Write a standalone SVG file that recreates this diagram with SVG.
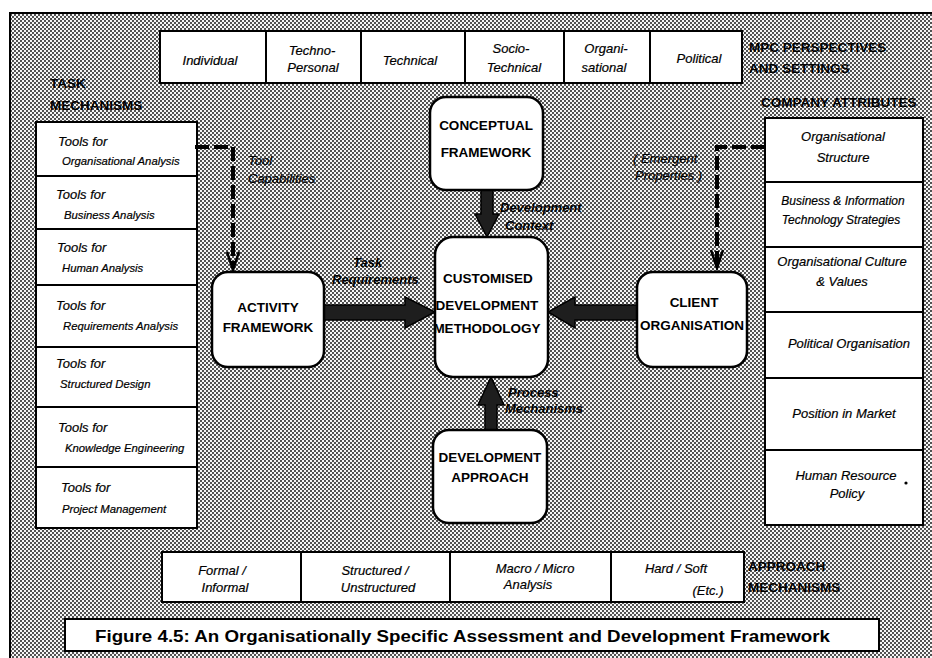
<svg xmlns="http://www.w3.org/2000/svg" width="932" height="658" viewBox="0 0 932 658">
  <defs>
    <!-- halftone screen used for the page background -->
    <pattern id="halftone" width="4" height="4" patternUnits="userSpaceOnUse">
      <rect width="4" height="4" fill="#f6f6f6"/>
      <circle cx="1" cy="1" r="0.88" fill="#000"/>
      <circle cx="3" cy="3" r="0.88" fill="#000"/>
    </pattern>
  </defs>
  <style>
    .cell{fill:#fff;stroke:#000;stroke-width:2}
    .rule{stroke:#000;stroke-width:2}
    .node{fill:#fff;stroke:#000;stroke-width:2.5}
    .it{font-family:"Liberation Sans",Arial,sans-serif;font-style:italic;font-size:13px;fill:#000;stroke:#000;stroke-width:0.2}
    .sm{font-size:12px}
    .xs{font-size:11.3px}
    .nl{font-family:"Liberation Sans",Arial,sans-serif;font-weight:bold;font-size:13.5px;text-anchor:middle;fill:#000}
    .hd{font-family:"Liberation Sans",Arial,sans-serif;font-weight:bold;font-size:13.5px;fill:#000}
    .lbl{font-family:"Liberation Sans",Arial,sans-serif;font-weight:bold;font-style:italic;font-size:13px;fill:#000}
    .c{text-anchor:middle}
    .dash{fill:none;stroke:#000;stroke-width:4;stroke-dasharray:14 5}
    .head{fill:none;stroke:#000;stroke-width:2.5;stroke-linejoin:miter}
    .thick{fill:#1e1e1e;stroke:#000;stroke-width:1.5;stroke-linejoin:miter}
  </style>

  <!-- page -->
  <rect x="0" y="0" width="932" height="658" fill="#fff"/>
  <rect x="10" y="13" width="930" height="652" fill="url(#halftone)" stroke="#000" stroke-width="2"/>

  <!-- MPC perspectives bar -->
  <g id="perspectives">
    <rect class="cell" x="160" y="31" width="582" height="52"/>
    <line class="rule" x1="266" y1="31" x2="266" y2="83"/>
    <line class="rule" x1="361" y1="31" x2="361" y2="83"/>
    <line class="rule" x1="465" y1="31" x2="465" y2="83"/>
    <line class="rule" x1="564" y1="31" x2="564" y2="83"/>
    <line class="rule" x1="650" y1="31" x2="650" y2="83"/>
    <text class="it c" x="210" y="65">Individual</text>
    <text class="it c" x="312" y="55">Techno-</text>
    <text class="it c" x="313" y="72">Personal</text>
    <text class="it c" x="410" y="65">Technical</text>
    <text class="it c" x="511" y="53">Socio-</text>
    <text class="it c" x="514" y="72">Technical</text>
    <text class="it c" x="606" y="53">Organi-</text>
    <text class="it c" x="604" y="72">sational</text>
    <text class="it c" x="699" y="63">Political</text>
    <text class="hd" x="749" y="52">MPC PERSPECTIVES</text>
    <text class="hd" x="749" y="73">AND SETTINGS</text>
  </g>

  <!-- task mechanisms column -->
  <g id="task-mechanisms">
    <text class="hd" x="50" y="88">TASK</text>
    <text class="hd" x="50" y="110">MECHANISMS</text>
    <rect class="cell" x="36" y="122" width="161" height="406"/>
    <line class="rule" x1="36" y1="176" x2="197" y2="176"/>
    <line class="rule" x1="36" y1="229" x2="197" y2="229"/>
    <line class="rule" x1="36" y1="285" x2="197" y2="285"/>
    <line class="rule" x1="36" y1="347" x2="197" y2="347"/>
    <line class="rule" x1="36" y1="407" x2="197" y2="407"/>
    <line class="rule" x1="36" y1="467" x2="197" y2="467"/>
    <text class="it" x="58" y="146">Tools for</text>
    <text class="it xs" x="62" y="165">Organisational Analysis</text>
    <text class="it" x="56" y="199">Tools for</text>
    <text class="it xs" x="64" y="219">Business Analysis</text>
    <text class="it" x="57" y="252">Tools for</text>
    <text class="it xs" x="62" y="272">Human Analysis</text>
    <text class="it" x="56" y="310">Tools for</text>
    <text class="it xs" x="63" y="330">Requirements Analysis</text>
    <text class="it" x="56" y="368">Tools for</text>
    <text class="it xs" x="60" y="388">Structured Design</text>
    <text class="it" x="58" y="432">Tools for</text>
    <text class="it xs" x="65" y="452">Knowledge Engineering</text>
    <text class="it" x="61" y="492">Tools for</text>
    <text class="it xs" x="62" y="513">Project Management</text>
  </g>

  <!-- company attributes column -->
  <g id="company-attributes">
    <text class="hd" x="761" y="107">COMPANY ATTRIBUTES</text>
    <rect class="cell" x="765" y="118" width="158" height="407"/>
    <line class="rule" x1="765" y1="182" x2="923" y2="182"/>
    <line class="rule" x1="765" y1="247" x2="923" y2="247"/>
    <line class="rule" x1="765" y1="312" x2="923" y2="312"/>
    <line class="rule" x1="765" y1="378" x2="923" y2="378"/>
    <line class="rule" x1="765" y1="450" x2="923" y2="450"/>
    <text class="it c" x="843" y="141">Organisational</text>
    <text class="it c" x="843" y="162">Structure</text>
    <text class="it c sm" x="843" y="205">Business &amp; Information</text>
    <text class="it c sm" x="841" y="224">Technology Strategies</text>
    <text class="it c" x="842" y="266">Organisational Culture</text>
    <text class="it c" x="842" y="286">&amp; Values</text>
    <text class="it c" x="849" y="348">Political Organisation</text>
    <text class="it c" x="844" y="418">Position in Market</text>
    <text class="it c" x="846" y="480">Human Resource</text>
    <circle cx="906" cy="483" r="1.6" fill="#000"/>
    <text class="it c" x="847" y="498">Policy</text>
  </g>

  <!-- connectors -->
  <g id="connectors">
    <!-- tool capabilities (dashed) -->
    <polyline class="dash" points="195,147 233,147 233,266"/>
    <polyline class="head" points="227,252 233,270 239,252"/>
    <text class="it" x="248" y="165">Tool</text>
    <text class="it" x="248" y="183">Capabilities</text>
    <!-- emergent properties (dashed) -->
    <polyline class="dash" points="765,147 717,147 717,264"/>
    <polyline class="head" points="711,250 717,268 723,250"/>
    <text class="it" x="633" y="163">( Emergent</text>
    <text class="it" x="635" y="180">Properties )</text>
    <!-- development context -->
    <polygon class="thick" points="481,190 493,190 493,214 499,214 487,237 475,214 481,214"/>
    <text class="lbl" x="500" y="212">Development</text>
    <text class="lbl" x="505" y="230">Context</text>
    <!-- task requirements -->
    <polygon class="thick" points="324,305 405,305 405,297 435,312 405,328 405,320 324,320"/>
    <text class="lbl" x="353" y="267">Task</text>
    <text class="lbl" x="332" y="284">Requirements</text>
    <!-- client organisation to methodology -->
    <polygon class="thick" points="637,305 575,305 575,297 548,312 575,328 575,320 637,320"/>
    <!-- process mechanisms -->
    <polygon class="thick" points="485,430 497,430 497,405 504,405 491,377 478,405 485,405"/>
    <text class="lbl" x="508" y="397">Process</text>
    <text class="lbl" x="505" y="413">Mechanisms</text>
  </g>

  <!-- framework nodes -->
  <g id="conceptual-framework">
    <rect class="node" x="430" y="97" width="113" height="93" rx="16"/>
    <text class="nl" x="486" y="130">CONCEPTUAL</text>
    <text class="nl" x="486" y="157">FRAMEWORK</text>
  </g>
  <g id="customised-methodology">
    <rect class="node" x="435" y="237" width="113" height="140" rx="18"/>
    <text class="nl" x="488" y="283">CUSTOMISED</text>
    <text class="nl" x="487" y="310">DEVELOPMENT</text>
    <text class="nl" x="487" y="333">METHODOLOGY</text>
  </g>
  <g id="activity-framework">
    <rect class="node" x="212" y="272" width="112" height="95" rx="16"/>
    <text class="nl" x="268" y="312">ACTIVITY</text>
    <text class="nl" x="268" y="332">FRAMEWORK</text>
  </g>
  <g id="client-organisation">
    <rect class="node" x="637" y="272" width="110" height="95" rx="16"/>
    <text class="nl" x="694" y="307">CLIENT</text>
    <text class="nl" x="692" y="330">ORGANISATION</text>
  </g>
  <g id="development-approach">
    <rect class="node" x="433" y="430" width="114" height="93" rx="16"/>
    <text class="nl" x="490" y="462">DEVELOPMENT</text>
    <text class="nl" x="490" y="482">APPROACH</text>
  </g>

  <!-- approach mechanisms bar -->
  <g id="approach-mechanisms">
    <rect class="cell" x="162" y="552" width="582" height="50"/>
    <line class="rule" x1="301" y1="552" x2="301" y2="602"/>
    <line class="rule" x1="450" y1="552" x2="450" y2="602"/>
    <line class="rule" x1="611" y1="552" x2="611" y2="602"/>
    <text class="it c" x="222" y="575">Formal /</text>
    <text class="it c" x="225" y="592">Informal</text>
    <text class="it c" x="375" y="575">Structured /</text>
    <text class="it c" x="378" y="592">Unstructured</text>
    <text class="it c" x="535" y="573">Macro / Micro</text>
    <text class="it c" x="528" y="589">Analysis</text>
    <text class="it c" x="676" y="573">Hard / Soft</text>
    <text class="it c" x="708" y="595">(Etc.)</text>
    <text class="hd" x="748" y="571">APPROACH</text>
    <text class="hd" x="748" y="592">MECHANISMS</text>
  </g>

  <!-- caption -->
  <g id="caption">
    <rect class="cell" x="65" y="619" width="814" height="32"/>
    <text x="95" y="642" textLength="735" lengthAdjust="spacingAndGlyphs" font-family="Liberation Sans, Arial, sans-serif" font-weight="bold" font-size="17">Figure 4.5: An Organisationally Specific Assessment and Development Framework</text>
  </g>
</svg>
